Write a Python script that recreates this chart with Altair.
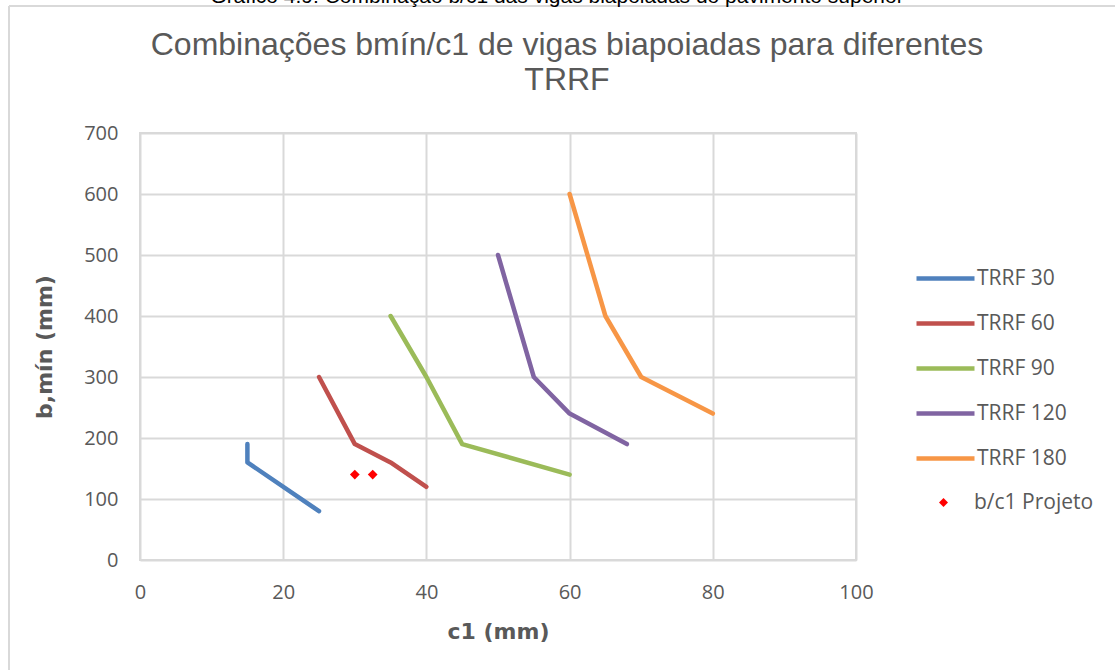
import altair as alt
import pandas as pd

series_names = ["TRRF 30", "TRRF 60", "TRRF 90", "TRRF 120", "TRRF 180"]
series_colors = ["#4F81BD", "#C0504D", "#9BBB59", "#8064A2", "#F79646"]

trrf30_c1 = [15, 15, 25]
trrf30_b = [190, 160, 80]
trrf60_c1 = [25, 30, 35, 40]
trrf60_b = [300, 190, 160, 120]
trrf90_c1 = [35, 40, 45, 60]
trrf90_b = [400, 300, 190, 140]
trrf120_c1 = [50, 55, 60, 68]
trrf120_b = [500, 300, 240, 190]
trrf180_c1 = [60, 65, 70, 80]
trrf180_b = [600, 400, 300, 240]

projeto_c1 = [30, 32.5]
projeto_b = [140, 140]
projeto_name = "b/c1 Projeto"

x_ticks = [0, 20, 40, 60, 80, 100]
y_ticks = [0, 100, 200, 300, 400, 500, 600, 700]

title_lines = ["Combinações bmín/c1 de vigas biapoiadas para diferentes", "TRRF"]
caption = "Gráfico 4.9: Combinação b/c1 das vigas biapoiadas do pavimento superior"

rows = []
for name, xs, ys in zip(
    series_names,
    [trrf30_c1, trrf60_c1, trrf90_c1, trrf120_c1, trrf180_c1],
    [trrf30_b, trrf60_b, trrf90_b, trrf120_b, trrf180_b],
):
    for i, (xv, yv) in enumerate(zip(xs, ys)):
        rows.append({"series": name, "c1": xv, "b": yv, "order": i})
lines_df = pd.DataFrame(rows)
pts_df = pd.DataFrame({"c1": projeto_c1, "b": projeto_b, "pt": [projeto_name] * len(projeto_c1)})

W, H = 716, 427
PL, PT, PR, PB = 140, 133, 259, 110

LABEL_FONT = "Open Sans"
TITLE_FONT = "Liberation Sans"
AXIS_TITLE_FONT = "DejaVu Sans"
GRAY = "#595959"
GRID = "#D9D9D9"

x_enc = alt.X(
    "c1:Q",
    scale=alt.Scale(domain=[0, 100], nice=False),
    axis=alt.Axis(
        values=x_ticks, title="c1 (mm)", grid=True, gridColor=GRID, gridWidth=2,
        domain=False, ticks=False, labelFlush=False, labelFont=LABEL_FONT, labelFontSize=20,
        labelColor=GRAY, labelPadding=22, titleFont=AXIS_TITLE_FONT,
        titleFontSize=22, titleFontWeight="bold", titleColor=GRAY, titlePadding=19,
    ),
)
y_enc = alt.Y(
    "b:Q",
    scale=alt.Scale(domain=[0, 700], nice=False),
    axis=alt.Axis(
        values=y_ticks, title="b,mín (mm)", grid=True, gridColor=GRID, gridWidth=2,
        domain=False, ticks=False, labelFlush=False, labelFont=LABEL_FONT, labelFontSize=20,
        labelColor=GRAY, labelPadding=22, titleFont=AXIS_TITLE_FONT,
        titleFontSize=22, titleFontWeight="bold", titleColor=GRAY, titlePadding=27,
    ),
)

lines = alt.Chart(lines_df).mark_line(strokeWidth=4.5, strokeCap="round", strokeJoin="round").encode(
    x=x_enc,
    y=y_enc,
    order="order:Q",
    color=alt.Color(
        "series:N",
        scale=alt.Scale(domain=series_names, range=series_colors),
        legend=alt.Legend(
            title=None, orient="none", legendX=774, legendY=114, padding=0,
            symbolType="stroke", symbolSize=3364, symbolStrokeWidth=4.5,
            rowPadding=3, labelFont=LABEL_FONT, labelFontSize=21,
            labelColor=GRAY, labelOffset=0,
        ),
    ),
)

points = alt.Chart(pts_df).mark_point(filled=True, size=95, color="#FF0000", opacity=1).encode(
    x="c1:Q",
    y="b:Q",
    shape=alt.Shape(
        "pt:N",
        scale=alt.Scale(domain=[projeto_name], range=["diamond"]),
        legend=alt.Legend(
            title=None, orient="none", legendX=793, legendY=359, padding=0,
            symbolSize=80, symbolFillColor="#FF0000", symbolStrokeWidth=0,
            symbolOpacity=1, labelFont=LABEL_FONT, labelFontSize=21,
            labelColor=GRAY, labelOffset=20,
        ),
    ),
)

frame_data = alt.Data(values=[{"k": 1}])
frame_left = alt.Chart(frame_data).mark_rule(color=GRID, strokeWidth=2).encode(
    x=alt.value(-131), y=alt.value(-127), y2=alt.value(H + PB + 10)
)
frame_top = alt.Chart(frame_data).mark_rule(color=GRID, strokeWidth=2).encode(
    x=alt.value(-131), x2=alt.value(W + PR + 10), y=alt.value(-127)
)
cut_text = alt.Chart(frame_data).mark_text(
    text=caption, font=TITLE_FONT, fontSize=21, color="#000000",
    align="center", baseline="alphabetic",
).encode(x=alt.value(557 - PL), y=alt.value(3 - PT))
title1 = alt.Chart(frame_data).mark_text(
    text=title_lines[0], font=TITLE_FONT, fontSize=32, color=GRAY,
    align="center", baseline="middle",
).encode(x=alt.value(567 - PL), y=alt.value(45 - PT))
title2 = alt.Chart(frame_data).mark_text(
    text=title_lines[1], font=TITLE_FONT, fontSize=32, color=GRAY,
    align="center", baseline="middle",
).encode(x=alt.value(567 - PL), y=alt.value(80 - PT))

chart = alt.layer(frame_left, frame_top, cut_text, title1, title2, lines, points).resolve_legend(
    color="independent", shape="independent"
).properties(
    width=W,
    height=H,
    autosize=alt.AutoSizeParams(type="none"),
    padding={"left": PL, "top": PT, "right": PR, "bottom": PB},
    background="white",
).configure_view(stroke=GRID, strokeWidth=2)

chart.save("out.html", embed_options={"renderer": "svg", "actions": False})
